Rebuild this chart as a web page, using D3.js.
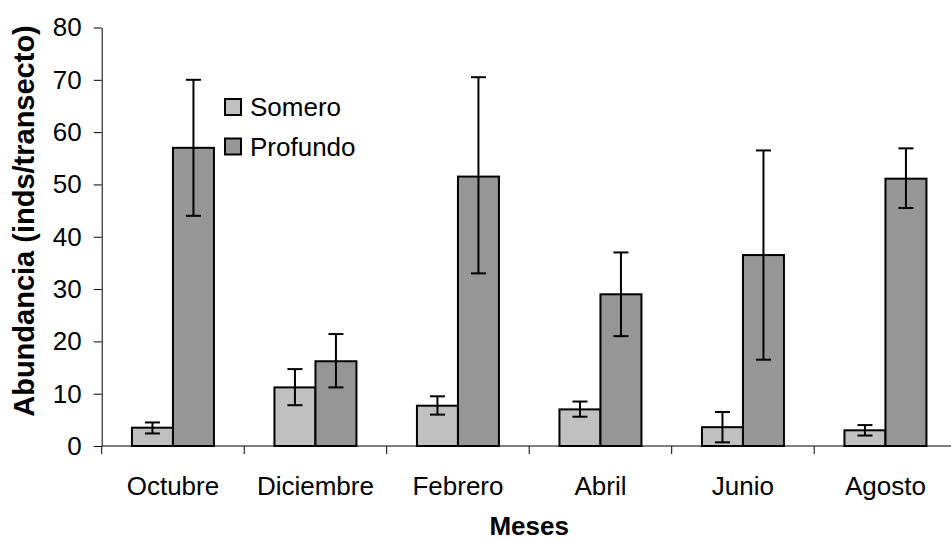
<!DOCTYPE html>
<html>
<head>
<meta charset="utf-8">
<script src="https://cdn.jsdelivr.net/npm/d3@7"></script>
<style>
  html, body { margin: 0; padding: 0; background: #fff; }
  svg { display: block; font-family: "Liberation Sans", Arial, sans-serif; }
</style>
</head>
<body>
<svg id="chart" width="951" height="540"></svg>
<script>
// Monthly abundance, shallow vs deep transects (mean with error range)
const months = ["Octubre", "Diciembre", "Febrero", "Abril", "Junio", "Agosto"];
const seriesNames = ["Somero", "Profundo"];
const someroMean = [3.5, 11.2, 7.7, 7.0, 3.6, 3.0];
const someroLow  = [2.4, 7.8, 6.0, 5.6, 0.7, 2.0];
const someroHigh = [4.5, 14.7, 9.5, 8.5, 6.5, 4.0];
const profundoMean = [57.0, 16.2, 51.5, 29.0, 36.5, 51.1];
const profundoLow  = [44.0, 11.2, 33.0, 21.0, 16.5, 45.5];
const profundoHigh = [70.0, 21.4, 70.5, 37.0, 56.5, 56.9];
const yTicks = [0, 10, 20, 30, 40, 50, 60, 70, 80];

const colors = { Somero: "#c0c0c0", Profundo: "#969696" };

const rows = [];
months.forEach((m, i) => {
  rows.push({ month: m, series: "Somero", v: someroMean[i], lo: someroLow[i], hi: someroHigh[i] });
  rows.push({ month: m, series: "Profundo", v: profundoMean[i], lo: profundoLow[i], hi: profundoHigh[i] });
});

const svg = d3.select("#chart");
const plotLeft = 101.7, plotRight = 956.7, plotTop = 27.5, plotBottom = 446;

const x = d3.scaleBand().domain(months).range([plotLeft, plotRight]).paddingInner(0).paddingOuter(0);
const bw = x.bandwidth();
const x1 = d3.scaleBand().domain(seriesNames).range([bw * 0.2123, bw * 0.7877]).padding(0);
const y = d3.scaleLinear().domain([0, 80]).range([plotBottom, plotTop]);

// bars
svg.append("g").selectAll("rect").data(rows).join("rect")
  .attr("x", d => x(d.month) + x1(d.series))
  .attr("y", d => y(d.v))
  .attr("width", x1.bandwidth())
  .attr("height", d => y(0) - y(d.v))
  .attr("fill", d => colors[d.series])
  .attr("stroke", "#000")
  .attr("stroke-width", 2);

// error bars
const capW = 15;
const eb = svg.append("g").attr("stroke", "#000").attr("stroke-width", 2);
rows.forEach(d => {
  const cx = x(d.month) + x1(d.series) + x1.bandwidth() / 2;
  eb.append("line").attr("x1", cx).attr("x2", cx).attr("y1", y(d.lo)).attr("y2", y(d.hi));
  eb.append("line").attr("x1", cx - capW / 2).attr("x2", cx + capW / 2).attr("y1", y(d.hi)).attr("y2", y(d.hi));
  eb.append("line").attr("x1", cx - capW / 2).attr("x2", cx + capW / 2).attr("y1", y(d.lo)).attr("y2", y(d.lo));
});

// y axis
const yAxis = svg.append("g").attr("transform", `translate(${plotLeft},0)`)
  .call(d3.axisLeft(y).tickValues(yTicks).tickSize(8).tickPadding(12).tickSizeOuter(0));
yAxis.select(".domain").attr("stroke", "#000").attr("stroke-width", 1);
yAxis.selectAll(".tick line").attr("stroke", "#000");
yAxis.selectAll(".tick text").attr("font-size", 26).attr("fill", "#000")
  .attr("font-family", "'Liberation Sans', Arial, sans-serif");

// x axis with ticks at category boundaries
svg.append("line").attr("x1", plotLeft).attr("x2", plotRight).attr("y1", plotBottom).attr("y2", plotBottom)
  .attr("stroke", "#000").attr("stroke-width", 1);
const bounds = months.map(m => x(m)).concat([plotRight]);
svg.append("g").selectAll("line").data(bounds).join("line")
  .attr("x1", d => d).attr("x2", d => d).attr("y1", plotBottom).attr("y2", plotBottom + 8)
  .attr("stroke", "#000").attr("stroke-width", 1);
svg.append("g").selectAll("text").data(months).join("text")
  .attr("x", d => x(d) + bw / 2)
  .attr("y", 495)
  .attr("text-anchor", "middle")
  .attr("font-size", 26)
  .text(d => d);

// axis titles
svg.append("text").attr("x", (plotLeft + plotRight) / 2).attr("y", 535)
  .attr("text-anchor", "middle").attr("font-size", 26).attr("font-weight", "bold").text("Meses");
svg.append("text").attr("transform", "translate(34,221) rotate(-90)")
  .attr("text-anchor", "middle").attr("font-size", 29).attr("font-weight", "bold")
  .text("Abundancia (inds/transecto)");

// legend
const lg = svg.append("g");
seriesNames.forEach((s, i) => {
  const yy = 99 + i * 39.5;
  lg.append("rect").attr("x", 225).attr("y", yy).attr("width", 16).attr("height", 16)
    .attr("fill", colors[s]).attr("stroke", "#000").attr("stroke-width", 2);
  lg.append("text").attr("x", 250).attr("y", yy + 17).attr("font-size", 26).text(s);
});
</script>
</body>
</html>
